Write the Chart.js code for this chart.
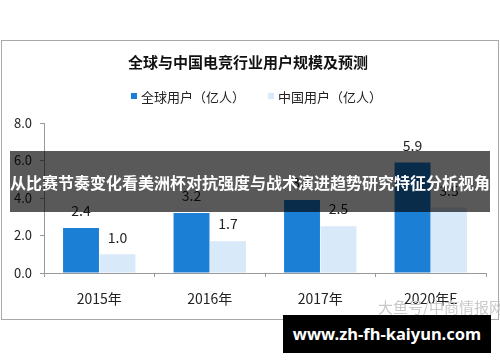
<!DOCTYPE html>
<html><head><meta charset="utf-8">
<script src="https://cdn.jsdelivr.net/npm/chart.js@4"></script>
<style>
html,body{margin:0;padding:0;background:#fff;}
#wrap{position:relative;width:500px;height:362px;overflow:hidden;font-family:"Noto Sans CJK SC","Noto Sans",sans-serif;}
#frame{position:absolute;left:1px;top:40px;width:496px;height:278px;border:1px solid #a8a8a8;}
canvas{position:absolute;left:0;top:0;}
#wm{position:absolute;left:378px;top:296px;font-size:15px;color:#c9c9c9;white-space:nowrap;}
#banner{position:absolute;left:10px;top:151px;width:480px;height:61px;background:rgba(0,0,0,0.65);color:#fff;font-weight:bold;font-size:16px;line-height:62px;text-align:center;white-space:nowrap;}
#url{position:absolute;left:283px;top:315px;width:208px;height:38px;background:#000;color:#fff;font-weight:bold;font-size:16.5px;line-height:38px;text-align:center;font-family:"Noto Sans","DejaVu Sans",sans-serif;white-space:nowrap;}
</style></head>
<body><div id="wrap">
<div id="frame"></div>
<canvas id="c" width="500" height="362"></canvas>
<div id="wm">大鱼号/中商情报网</div>
<div id="banner">从比赛节奏变化看美洲杯对抗强度与战术演进趋势研究特征分析视角</div>
<div id="url">www.zh-fh-kaiyun.com</div>
</div>
<script>
const categories = ["2015年", "2016年", "2017年", "2020年E"];
const globalUsers = [2.4, 3.2, 3.9, 5.9];
const chinaUsers = [1.0, 1.7, 2.5, 3.5];
const seriesNames = ["全球用户（亿人）", "中国用户（亿人）"];
const yTicks = [0, 2, 4, 6, 8];

const FONT = '"Noto Sans CJK SC","Noto Sans",sans-serif';

const valueLabels = {
  id: 'valueLabels',
  afterDatasetsDraw(chart) {
    const ctx = chart.ctx;
    ctx.save();
    ctx.font = '14px ' + FONT;
    ctx.fillStyle = '#222';
    ctx.textAlign = 'center';
    ctx.textBaseline = 'middle';
    chart.data.datasets.forEach((ds, i) => {
      chart.getDatasetMeta(i).data.forEach((bar, j) => {
        ctx.fillText(ds.data[j].toFixed(1), bar.x, bar.y - 17);
      });
    });
    ctx.restore();
  }
};

// legend drawn from the datasets (labels + colours), centred under the title
const legendRow = {
  id: 'legendRow',
  afterDraw(chart) {
    const ctx = chart.ctx;
    ctx.save();
    ctx.font = '13px ' + FONT;
    ctx.textBaseline = 'middle';
    ctx.textAlign = 'left';
    const box = 6, gapText = 10, gapItem = 23, cy = 97;
    const items = chart.data.datasets.map(ds => ({text: ds.label, color: ds.backgroundColor, w: ctx.measureText(ds.label).width}));
    let total = 0;
    items.forEach((it, i) => { total += gapText + it.w + (i ? gapItem : 0); });
    let x = 256.5 - total / 2;
    items.forEach((it, i) => {
      if (i) x += gapItem;
      ctx.fillStyle = it.color;
      ctx.fillRect(x, cy - 4, box, box);
      ctx.fillStyle = '#222';
      ctx.fillText(it.text, x + gapText, cy);
      x += gapText + it.w;
    });
    ctx.restore();
  }
};

new Chart(document.getElementById('c'), {
  type: 'bar',
  data: {
    labels: categories,
    datasets: [
      {label: seriesNames[0], data: globalUsers, backgroundColor: '#1b7fd6'},
      {label: seriesNames[1], data: chinaUsers, backgroundColor: '#d8e9f9'}
    ]
  },
  options: {
    responsive: false,
    animation: false,
    devicePixelRatio: 1,
    categoryPercentage: 0.66,
    barPercentage: 0.985,
    layout: {padding: {left: 10, right: 14, top: 40, bottom: 55}},
    plugins: {
      tooltip: {enabled: false},
      legend: {display: false},
      title: {display: true, text: '全球与中国电竞行业用户规模及预测', color: '#111',
        font: {family: FONT, size: 15, weight: 'bold'}, padding: {top: 13, bottom: 52}}
    },
    scales: {
      x: {
        grid: {display: true, drawOnChartArea: false, drawTicks: true, tickLength: 4, color: '#999'},
        border: {color: '#999'},
        ticks: {color: '#222', font: {family: FONT, size: 14}, padding: 13},
        afterFit(s) { s.height = 34; }
      },
      y: {
        min: 0, max: 8,
        afterBuildTicks(s) { s.ticks = yTicks.map(v => ({value: v})); },
        grid: {display: true, drawOnChartArea: false, drawTicks: true, tickLength: 4, color: '#999'},
        border: {color: '#999'},
        ticks: {color: '#222', font: {family: FONT, size: 13}, padding: 8,
          callback: v => Number(v).toFixed(1)},
        afterFit(s) { s.width = 34; }
      }
    }
  },
  plugins: [valueLabels, legendRow]
});
</script>
</body></html>
